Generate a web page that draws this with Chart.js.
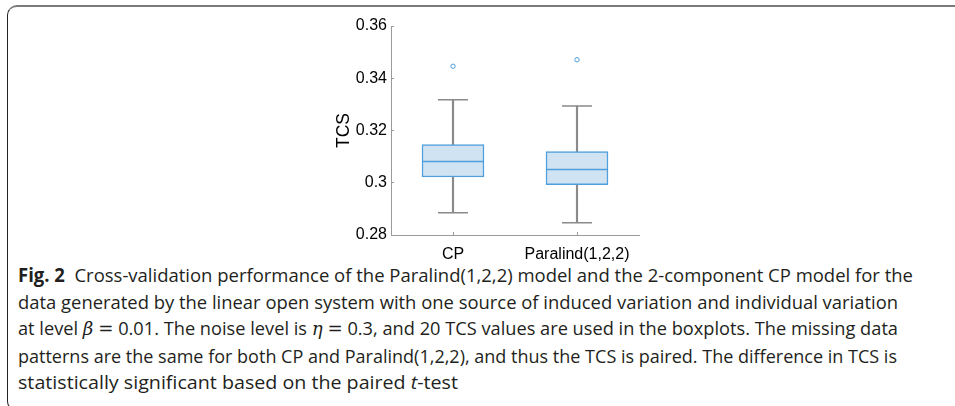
<!DOCTYPE html>
<html>
<head>
<meta charset="utf-8">
<script src="https://cdn.jsdelivr.net/npm/chart.js@4.4.1/dist/chart.umd.min.js"></script>
<style>
  html, body { margin: 0; padding: 0; background: #fff; width: 955px; height: 406px; overflow: hidden; }
  body { position: relative; }
  #frame {
    position: absolute; left: 7px; top: 5px; width: 990px; height: 406px;
    border-top: 2px solid #7b7b7b; border-left: 1px solid #222; border-bottom: 1px solid #222;
    border-radius: 10px 0 0 10px; box-sizing: border-box;
  }
  #chartBox { position: absolute; left: 320px; top: 0; width: 340px; height: 262px; }
  #caption {
    position: absolute; left: 18px; top: 262px;
    font-family: "Open Sans", sans-serif; font-size: 18.8px; line-height: 26.6px;
    color: #231f20; white-space: nowrap;
  }
  #caption div { transform-origin: 0 0; }
  #caption span.ln { display: inline-block; }
  #caption b { font-weight: 700; }
  #caption .m { font-family: "DejaVu Serif", serif; font-style: italic; }
  #caption .eq { font-family: "DejaVu Serif", serif; }
</style>
</head>
<body>
<div id="frame"></div>
<div id="chartBox"><canvas id="boxChart" width="340" height="262"></canvas></div>
<div id="caption">
  <div><span class="ln"><b>Fig. 2</b>&nbsp; Cross-validation performance of the Paralind(1,2,2) model and the 2-component CP model for the</span></div>
  <div><span class="ln">data generated by the linear open system with one source of induced variation and individual variation</span></div>
  <div><span class="ln">at level <span class="m">β</span> <span class="eq">=</span> 0.01. The noise level is <span class="m">η</span> <span class="eq">=</span> 0.3, and 20 TCS values are used in the boxplots. The missing data</span></div>
  <div><span class="ln">patterns are the same for both CP and Paralind(1,2,2), and thus the TCS is paired. The difference in TCS is</span></div>
  <div><span class="ln">statistically significant based on the paired <i>t</i>-test</span></div>
</div>
<script>
// values (TCS, 20 runs each)
var categories = ['CP', 'Paralind(1,2,2)'];
var whiskerLow = [0.2885, 0.2847];
var q1 = [0.3022, 0.2993];
var medians = [0.3081, 0.3051];
var q3 = [0.3146, 0.3119];
var whiskerHigh = [0.3318, 0.3294];
var outliers = [0.3446, 0.3471];
var yTicks = [0.28, 0.3, 0.32, 0.34, 0.36];
var yTickLabels = ['0.28', '0.3', '0.32', '0.34', '0.36'];

var blue = '#4f9fdc';
var boxFill = '#cfe3f3';
var gray = '#8a8a8a';
var axisGray = '#9a9a9a';
var tickFont = { family: 'Liberation Sans', size: 16 };

var ctx = document.getElementById('boxChart').getContext('2d');
new Chart(ctx, {
    type: 'bar',
    data: {
        labels: categories,
        datasets: [
            {
                type: 'line', label: 'median', data: medians, showLine: false,
                pointStyle: 'line', pointRadius: 31, pointHoverRadius: 31,
                pointBorderColor: blue, borderColor: blue, pointBorderWidth: 1.5, order: 1
            },
            {
                type: 'line', label: 'outliers', data: outliers, showLine: false,
                pointStyle: 'circle', pointRadius: 2.2, pointHoverRadius: 2.2,
                pointBorderColor: blue, pointBackgroundColor: '#fff', pointBorderWidth: 1, order: 1
            },
            {
                type: 'line', label: 'upper cap', data: whiskerHigh, showLine: false,
                pointStyle: 'line', pointRadius: 15, pointHoverRadius: 15,
                pointBorderColor: gray, pointBorderWidth: 1.5, order: 2
            },
            {
                type: 'line', label: 'lower cap', data: whiskerLow, showLine: false,
                pointStyle: 'line', pointRadius: 15, pointHoverRadius: 15,
                pointBorderColor: gray, pointBorderWidth: 1.5, order: 2
            },
            {
                type: 'bar', label: 'box', data: q1.map(function (v, i) { return [v, q3[i]]; }),
                barThickness: 62, grouped: false, backgroundColor: boxFill,
                borderColor: blue, borderWidth: 1.5, borderSkipped: false, order: 3
            },
            {
                type: 'bar', label: 'whisker', data: whiskerLow.map(function (v, i) { return [v, whiskerHigh[i]]; }),
                barThickness: 1.5, grouped: false, backgroundColor: gray, borderWidth: 0, order: 4
            }
        ]
    },
    options: {
        responsive: false,
        animation: false,
        devicePixelRatio: 1,
        layout: { autoPadding: false, padding: { left: 0, top: 26, right: 21, bottom: 0 } },
        plugins: { legend: { display: false }, tooltip: { enabled: false } },
        scales: {
            x: {
                offset: true,
                grid: { drawOnChartArea: false, offset: false, tickLength: -3, color: axisGray },
                border: { color: axisGray, width: 1 },
                ticks: { color: '#000', font: tickFont, padding: 12.5, maxRotation: 0 },
                afterFit: function (scale) { scale.height = 27; }
            },
            y: {
                min: 0.28,
                max: 0.36,
                grid: { drawOnChartArea: false, tickLength: -3, color: axisGray },
                border: { color: axisGray, width: 1 },
                afterBuildTicks: function (scale) {
                    scale.ticks = yTicks.map(function (v) { return { value: v }; });
                },
                ticks: {
                    color: '#000', font: tickFont, padding: 7,
                    callback: function (value) {
                        var i = yTicks.indexOf(value);
                        return i >= 0 ? yTickLabels[i] : '';
                    }
                },
                title: { display: true, text: 'TCS', color: '#000', font: { family: 'Liberation Sans', size: 17.5 }, padding: { top: 14, bottom: 0 } },
                afterFit: function (scale) { scale.width = 71; }
            }
        }
    }
});

// squeeze each caption line to the width it has in the printed figure
var lineWidths = [895, 880, 880, 879, 440];
var lines = document.querySelectorAll('#caption span.ln');
lines.forEach(function (el, i) {
    var w = el.getBoundingClientRect().width;
    el.parentNode.style.transform = 'scaleX(' + (lineWidths[i] / w) + ')';
});
</script>
</body>
</html>
